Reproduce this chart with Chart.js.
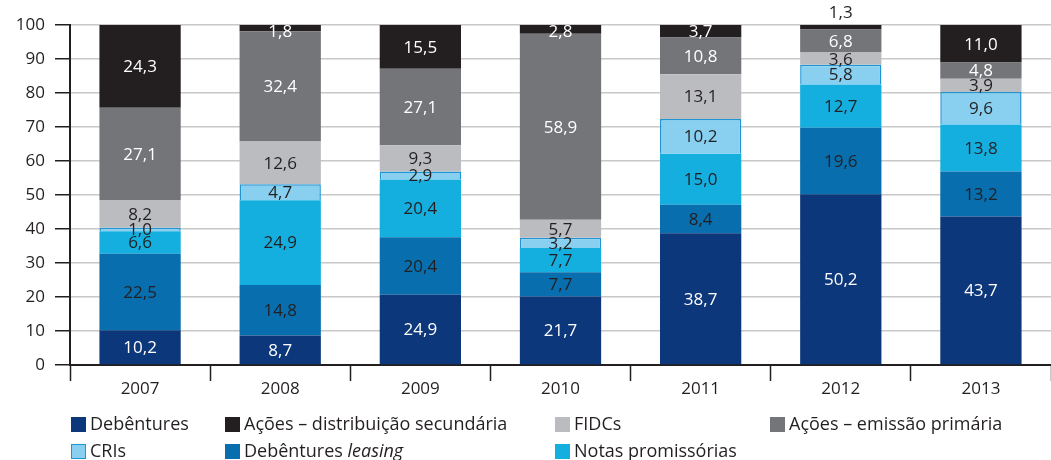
<!DOCTYPE html>
<html>
<head>
<meta charset="utf-8">
<script src="https://cdn.jsdelivr.net/npm/chart.js@4.4.1/dist/chart.umd.min.js"></script>
<style>
  body { margin: 0; background: #fff; }
  #wrap { position: relative; width: 1051px; height: 460px; overflow: hidden; }
  .leg { position: absolute; font: 18px "Open Sans", "Noto Sans", sans-serif; color: #231f20; white-space: nowrap; line-height: 18px; }
  .leg span.sw { position: absolute; left: 0; top: 0; width: 15px; height: 15px; }
  .leg span.tx { position: absolute; left: 19px; top: -3px; }
</style>
</head>
<body>
<div id="wrap">
  <canvas id="chart" width="1051" height="460"></canvas>
</div>
<script>
// valeurs (% du total par année)
const years = ['2007', '2008', '2009', '2010', '2011', '2012', '2013'];
const debentures   = [10.2, 8.7, 24.9, 21.7, 38.7, 50.2, 43.7];
const debLeasing   = [22.5, 14.8, 20.4, 7.7, 8.4, 19.6, 13.2];
const notasProm    = [6.6, 24.9, 20.4, 7.7, 15.0, 12.7, 13.8];
const cris         = [1.0, 4.7, 2.9, 3.2, 10.2, 5.8, 9.6];
const fidcs        = [8.2, 12.6, 9.3, 5.7, 13.1, 3.6, 3.9];
const acoesPrim    = [27.1, 32.4, 27.1, 58.9, 10.8, 6.8, 4.8];
const acoesSec     = [24.3, 1.8, 15.5, 2.8, 3.7, 1.3, 11.0];
const yTicks = [0, 10, 20, 30, 40, 50, 60, 70, 80, 90, 100];

const series = [
  { label: 'Debêntures', values: debentures, color: '#0d377b', text: '#ffffff' },
  { label: 'Debêntures leasing', values: debLeasing, color: '#086ead', text: '#231f20' },
  { label: 'Notas promissórias', values: notasProm, color: '#14aedf', text: '#231f20' },
  { label: 'CRIs', values: cris, color: '#88cff0', text: '#231f20', border: '#1f95d3' },
  { label: 'FIDCs', values: fidcs, color: '#bbbcbf', text: '#231f20' },
  { label: 'Ações – emissão primária', values: acoesPrim, color: '#747579', text: '#ffffff' },
  { label: 'Ações – distribuição secundária', values: acoesSec, color: '#231f20', text: '#ffffff' }
];

// total par année, pour ramener chaque barre à 100
const totals = years.map((y, i) => series.reduce((s, d) => s + d.values[i], 0));

const FONT = '"Open Sans", "Noto Sans", sans-serif';
const fmt = v => v.toFixed(1).replace('.', ',');

// étiquettes au centre des segments
const labelsPlugin = {
  id: 'segLabels',
  afterDatasetsDraw(chart) {
    const ctx = chart.ctx;
    ctx.save();
    ctx.font = '17px ' + FONT;
    ctx.textAlign = 'center';
    ctx.textBaseline = 'middle';
    chart.data.datasets.forEach((ds, di) => {
      const meta = chart.getDatasetMeta(di);
      const isTop = di === series.length - 1;
      meta.data.forEach((bar, i) => {
        const raw = series[di].values[i];
        let y = (bar.y + bar.base) / 2 + 1;
        let color = series[di].text;
        if (isTop) y = Math.max(y, bar.y + 7);
        // petit segment du haut : étiquette au-dessus de la barre
        if (isTop && Math.abs(bar.base - bar.y) < 5) {
          y = bar.y - 12;
          color = '#231f20';
        }
        ctx.fillStyle = color;
        ctx.fillText(fmt(raw), bar.x, y);
      });
    });
    ctx.restore();
  }
};

new Chart(document.getElementById('chart'), {
  type: 'bar',
  data: {
    labels: years,
    datasets: series.map(s => ({
      label: s.label,
      data: s.values.map((v, i) => v / totals[i] * 100),
      backgroundColor: s.color,
      borderColor: s.border || s.color,
      borderWidth: s.border ? 1.5 : 0,
      categoryPercentage: 1,
      barPercentage: 0.58
    }))
  },
  options: {
    responsive: false,
    animation: false,
    layout: { padding: { top: 25, left: 0, right: 0, bottom: 0 } },
    plugins: { legend: { display: false }, tooltip: { enabled: false } },
    scales: {
      x: {
        stacked: true,
        afterFit: s => { s.height = 95; },
        grid: { drawOnChartArea: false, drawTicks: true, tickLength: 16, tickColor: '#231f20', tickWidth: 1.5, offset: true },
        border: { color: '#231f20', width: 2 },
        ticks: { color: '#231f20', font: { family: FONT, size: 17 }, padding: -2 }
      },
      y: {
        stacked: true,
        min: 0,
        max: 100,
        afterFit: s => { s.width = 70; },
        afterBuildTicks: s => { s.ticks = yTicks.map(v => ({ value: v })); },
        grid: { color: '#c8c8c8', lineWidth: 1.5, tickLength: 15, tickColor: '#231f20', tickWidth: 1.5 },
        border: { color: '#231f20', width: 2 },
        ticks: { color: '#231f20', font: { family: FONT, size: 17 }, padding: 10 }
      }
    }
  },
  plugins: [labelsPlugin]
});

// légende HTML (deux lignes, « leasing » en italique)
const legendItems = [
  { name: 'Debêntures', idx: 0, x: 71, y: 417 },
  { name: 'Ações – distribuição secundária', idx: 6, x: 225, y: 417 },
  { name: 'FIDCs', idx: 4, x: 555, y: 417 },
  { name: 'Ações – emissão primária', idx: 5, x: 770, y: 417 },
  { name: 'CRIs', idx: 3, x: 71, y: 444 },
  { name: 'Debêntures <i>leasing</i>', idx: 1, x: 225, y: 444 },
  { name: 'Notas promissórias', idx: 2, x: 555, y: 444 }
];
const wrap = document.getElementById('wrap');
legendItems.forEach(it => {
  const s = series[it.idx];
  const d = document.createElement('div');
  d.className = 'leg';
  d.style.left = it.x + 'px';
  d.style.top = it.y + 'px';
  const border = s.border ? 'box-sizing:border-box;border:1.5px solid ' + s.border + ';' : '';
  d.innerHTML = '<span class="sw" style="background:' + s.color + ';' + border + '"></span><span class="tx">' + it.name + '</span>';
  wrap.appendChild(d);
});
</script>
</body>
</html>
